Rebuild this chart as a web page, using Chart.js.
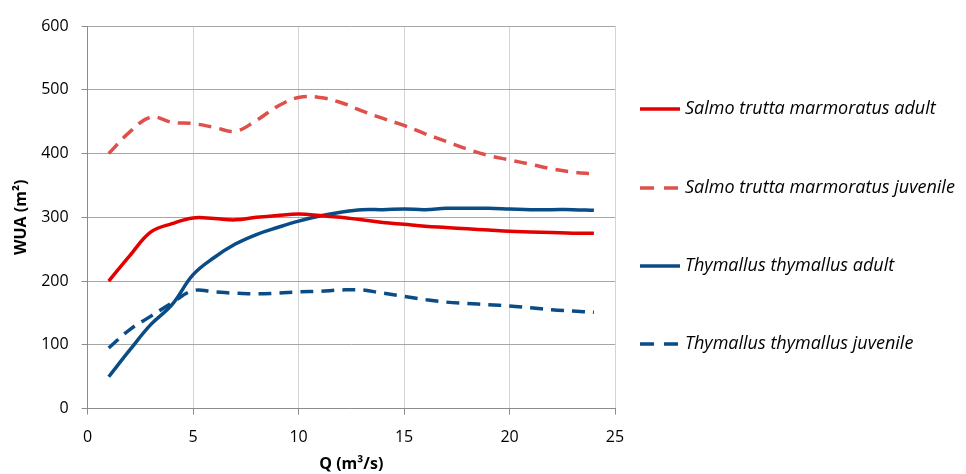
<!DOCTYPE html>
<html>
<head>
<meta charset="utf-8">
<script src="https://cdn.jsdelivr.net/npm/chart.js@4"></script>
<style>
  html, body { margin: 0; padding: 0; background: #fff; }
  #wrap { width: 966px; height: 474px; position: relative; }
</style>
</head>
<body>
<div id="wrap"><canvas id="wua"></canvas></div>
<script>
// caudales Q (m3/s)
const caudal = [1, 2, 3, 4, 5, 6, 7, 8, 9, 10, 11, 12, 13, 14, 15, 16, 17, 18, 19, 20, 21, 22, 23, 24];

// WUA (m2) por especie
const salmoAdult = [200, 240, 277, 290, 299, 298, 296, 300, 303, 305, 303, 300, 296, 292, 289, 286, 284, 282, 280, 278, 277, 276, 275, 275];
const salmoJuvenile = [400, 434, 457, 449, 447, 441, 435, 452, 474, 488, 488, 480, 467, 455, 444, 431, 419, 407, 397, 390, 383, 376, 371, 368];
const thymAdult = [50, 92, 132, 163, 210, 237, 258, 273, 284, 294, 302, 308, 312, 312, 313, 312, 314, 314, 314, 313, 312, 312, 312, 311];
const thymJuvenile = [95, 124, 145, 166, 185, 183, 181, 180, 181, 183, 184, 186, 186, 181, 176, 171, 167, 165, 163, 161, 158, 155, 153, 151];

const nombres = [
  'Salmo trutta marmoratus adult',
  'Salmo trutta marmoratus juvenile',
  'Thymallus thymallus adult',
  'Thymallus thymallus juvenile'
];

const xTicks = [0, 5, 10, 15, 20, 25];
const yTicks = [0, 100, 200, 300, 400, 500, 600];

const rojo = '#e30000';
const rojoClaro = '#e0504a';
const azul = '#0a4c86';

function serie(label, valores, color, dash) {
  return {
    label: label,
    data: caudal.map((q, i) => ({ x: q, y: valores[i] })),
    borderColor: color,
    backgroundColor: color,
    borderWidth: 3.5,
    borderDash: dash,
    pointRadius: 0,
    tension: 0.4,
    fill: false
  };
}

// leyenda dibujada a mano (lineas + texto en cursiva)
const leyendaManual = {
  id: 'leyendaManual',
  afterDraw(chart) {
    const ctx = chart.ctx;
    const ys = [109, 188, 266, 344];
    ctx.save();
    chart.data.datasets.forEach((ds, i) => {
      ctx.beginPath();
      ctx.strokeStyle = ds.borderColor;
      ctx.lineWidth = 3.5;
      ctx.setLineDash(ds.borderDash.length ? [14, 10] : []);
      ctx.moveTo(640, ys[i]);
      ctx.lineTo(680, ys[i]);
      ctx.stroke();
      ctx.setLineDash([]);
      ctx.fillStyle = '#000';
      ctx.font = 'italic 18px "Open Sans"';
      ctx.textBaseline = 'middle';
      ctx.fillText(ds.label, 685, ys[i]);
    });
    ctx.restore();
  }
};

const ctx = document.getElementById('wua').getContext('2d');
new Chart(ctx, {
  type: 'line',
  data: {
    datasets: [
      serie(nombres[0], salmoAdult, rojo, []),
      serie(nombres[1], salmoJuvenile, rojoClaro, [13, 8]),
      serie(nombres[2], thymAdult, azul, []),
      serie(nombres[3], thymJuvenile, azul, [13, 8])
    ]
  },
  options: {
    responsive: true,
    maintainAspectRatio: false,
    animation: false,
    layout: { padding: { top: 26, right: 351, left: 12, bottom: 0 } },
    plugins: {
      legend: { display: false },
      tooltip: { enabled: false }
    },
    scales: {
      x: {
        type: 'linear',
        min: 0,
        max: 25,
        afterBuildTicks: axis => { axis.ticks = xTicks.map(v => ({ value: v })); },
        grid: { color: '#d4d4d4', lineWidth: 1, tickLength: 6, tickColor: '#8c8c8c' },
        border: { color: '#8c8c8c', width: 1 },
        ticks: { color: '#000', font: { family: '"Open Sans"', size: 16 }, padding: 13, maxRotation: 0 },
        title: { display: true, text: 'Q (m³/s)', color: '#000', font: { family: '"Open Sans"', size: 16, weight: 'bold' }, padding: { top: -5, bottom: 0 } }
      },
      y: {
        min: 0,
        max: 600,
        afterBuildTicks: axis => { axis.ticks = yTicks.map(v => ({ value: v })); },
        grid: { color: '#a6a6a6', lineWidth: 1, tickLength: 6, tickColor: '#8c8c8c' },
        border: { color: '#8c8c8c', width: 1 },
        ticks: { color: '#000', font: { family: '"Open Sans"', size: 16 }, padding: 13 },
        title: { display: true, text: 'WUA (m²)', color: '#000', font: { family: '"Open Sans"', size: 16, weight: 'bold' }, padding: { top: 0, bottom: -3 } }
      }
    }
  },
  plugins: [leyendaManual]
});
</script>
</body>
</html>
